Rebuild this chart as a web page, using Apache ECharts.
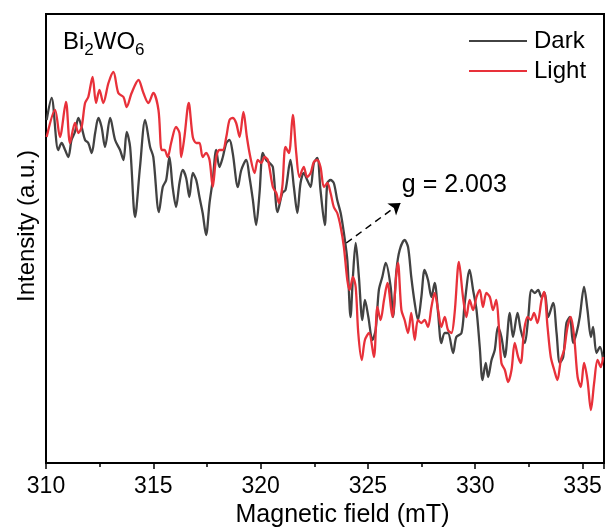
<!DOCTYPE html>
<html>
<head>
<meta charset="utf-8">
<script src="https://cdn.jsdelivr.net/npm/echarts@6/dist/echarts.min.js"></script>
<style>
html,body{margin:0;padding:0;background:#fff;}
#chart{width:605px;height:527px;}
</style>
</head>
<body>
<div id="chart"></div>
<script>
// ---- data ----
const darkField = [310.03,310.26,310.57,310.73,310.89,311.04,311.19,311.35,311.51,311.66,311.82,311.97,312.13,312.29,312.44,312.59,312.75,312.99,313.22,313.45,313.61,313.76,313.92,314.15,314.38,314.62,314.85,315.00,315.26,315.44,315.60,315.75,315.90,316.06,316.22,316.37,316.53,316.68,316.84,317.00,317.15,317.30,317.46,317.62,317.77,317.93,318.08,318.24,318.40,318.55,318.70,318.94,319.10,319.33,319.48,319.64,319.79,319.95,320.10,320.26,320.42,320.57,320.79,321.01,321.16,321.39,321.55,321.71,321.86,322.01,322.17,322.33,322.48,322.64,322.79,322.99,323.11,323.26,323.41,323.57,323.73,323.88,324.04,324.19,324.30,324.43,324.58,324.74,324.86,325.02,325.21,325.36,325.51,325.67,325.83,326.06,326.17,326.33,326.48,326.71,326.87,327.02,327.18,327.33,327.49,327.64,327.80,327.96,328.11,328.27,328.42,328.58,328.73,328.97,329.12,329.36,329.51,329.74,329.90,330.06,330.21,330.34,330.49,330.60,330.76,330.91,331.06,331.22,331.38,331.61,331.76,331.97,332.12,332.31,332.46,332.62,332.78,332.93,333.09,333.24,333.40,333.63,333.79,333.94,334.10,334.25,334.41,334.56,334.72,334.87,335.07,335.23,335.39,335.49,335.65,335.81,335.96];
const darkIntensity = [343,365,313,320,313,306,323,331,345,336,323,320,310,330,345,336,316,345,323,313,303,331,316,246,296,343,316,306,251,276,283,306,276,256,280,293,285,266,290,283,266,250,228,260,283,313,296,306,320,323,310,276,293,303,286,263,238,270,310,303,300,296,251,270,273,303,276,250,280,290,283,276,300,305,273,238,280,283,280,263,250,230,203,146,186,220,186,143,163,146,123,133,173,186,200,176,146,193,213,223,216,186,160,143,166,193,183,166,180,150,120,130,130,110,126,130,160,193,173,153,116,83,100,86,103,113,136,126,106,150,126,150,133,120,143,173,170,173,166,170,146,160,130,100,106,140,146,120,130,146,176,153,126,136,110,116,103];
const lightField = [310.03,310.42,310.65,310.93,311.12,311.35,311.51,311.66,311.82,311.97,312.17,312.33,312.49,312.67,312.91,313.14,313.37,313.61,313.76,313.99,314.31,314.54,314.77,315.00,315.24,315.39,315.52,315.67,315.83,316.06,316.22,316.30,316.45,316.65,316.84,317.00,317.15,317.30,317.46,317.62,317.77,317.93,318.08,318.24,318.40,318.55,318.70,318.86,319.02,319.20,319.36,319.52,319.72,319.87,320.03,320.18,320.34,320.57,320.73,320.85,321.01,321.16,321.32,321.50,321.66,321.81,322.01,322.17,322.33,322.48,322.64,322.79,322.95,323.11,323.26,323.41,323.57,323.73,323.88,324.04,324.15,324.30,324.43,324.55,324.71,324.86,325.05,325.28,325.44,325.59,325.75,325.91,326.14,326.33,326.40,326.56,326.71,326.87,327.02,327.18,327.33,327.49,327.64,327.80,327.96,328.11,328.27,328.42,328.58,328.73,328.89,329.04,329.24,329.43,329.59,329.74,329.90,330.06,330.21,330.36,330.52,330.68,330.83,330.98,331.10,331.22,331.38,331.53,331.69,331.84,332.00,332.12,332.28,332.44,332.59,332.74,332.90,333.09,333.21,333.37,333.52,333.68,333.83,333.99,334.14,334.30,334.45,334.61,334.77,334.92,335.07,335.23,335.39,335.54,335.70,335.85,335.96];
const lightIntensity = [326,353,326,361,320,340,330,336,360,366,386,360,373,360,380,391,370,366,356,370,383,370,360,370,353,313,313,306,320,336,330,306,326,360,326,320,320,306,310,303,276,306,313,313,326,343,345,340,326,351,326,306,290,303,300,306,303,276,270,260,276,316,310,348,310,286,296,286,290,301,303,296,276,280,270,256,250,236,216,183,173,186,176,130,103,123,130,106,156,143,163,180,146,190,200,153,143,130,150,123,143,140,143,136,156,170,153,136,146,133,130,150,201,166,146,163,153,166,173,156,170,166,153,163,137,100,93,81,93,120,106,100,133,146,143,150,140,163,171,136,106,93,83,103,113,136,146,126,86,76,100,83,53,80,103,96,106];
const seriesNames = ['Dark', 'Light'];
const xTicks = [310, 315, 320, 325, 330, 335];
const gArrowField = [323.99, 326.52];
const gArrowIntensity = [220, 260];
const gLabel = 'g = 2.003';
const gLabelPos = [326.58, 277.5];

const FONT = '"Liberation Sans", Arial, sans-serif';
const zip = (xs, ys) => xs.map((x, i) => [x, ys[i]]);

const chart = echarts.init(document.getElementById('chart'), null, {renderer: 'canvas'});
const option = {
  animation: false,
  backgroundColor: '#fff',
  grid: {left: 46, right: 1, top: 14, bottom: 64, containLabel: false, outerBoundsMode: 'none',
    show: true, borderColor: '#000', borderWidth: 2, backgroundColor: 'transparent'},
  legend: {
    orient: 'vertical', left: 469, top: 29, padding: 0,
    icon: 'rect', itemWidth: 58, itemHeight: 2, itemGap: 6,
    textStyle: {fontFamily: FONT, fontSize: 24, color: '#000', lineHeight: 24, padding: [0, 0, 0, 2]},
    data: seriesNames
  },
  xAxis: {
    type: 'value', min: xTicks[0], max: 336, interval: 5,
    name: 'Magnetic field (mT)', nameLocation: 'middle', nameGap: 36,
    nameTextStyle: {fontFamily: FONT, fontSize: 25, color: '#000', padding: [0, 0, 0, 35]},
    axisLine: {show: true, lineStyle: {color: '#000', width: 2}},
    axisTick: {show: true, inside: false, length: 6, lineStyle: {color: '#000', width: 1.5}},
    minorTick: {show: true, splitNumber: 2, length: 4, lineStyle: {color: '#000', width: 1.5}},
    axisLabel: {fontFamily: FONT, fontSize: 23, color: '#000', margin: 12, showMaxLabel: false,
      formatter: v => (xTicks.indexOf(v) >= 0 ? String(v) : '')},
    splitLine: {show: false}
  },
  yAxis: {
    type: 'value', min: 0, max: 449,
    name: 'Intensity (a.u.)', nameLocation: 'middle', nameGap: 7,
    nameTextStyle: {fontFamily: FONT, fontSize: 24, color: '#000', padding: [0, 0, 0, 25]},
    axisLine: {show: true, lineStyle: {color: '#000', width: 2}},
    axisTick: {show: false}, axisLabel: {show: false}, splitLine: {show: false}
  },
  series: [
    {
      name: seriesNames[0], type: 'line', symbol: 'none', showSymbol: false, smooth: 0.3,
      lineStyle: {color: '#424242', width: 2.3}, itemStyle: {color: '#424242'},
      data: zip(darkField, darkIntensity), z: 2
    },
    {
      name: seriesNames[1], type: 'line', symbol: 'none', showSymbol: false, smooth: 0.3,
      lineStyle: {color: '#e8313a', width: 2.3}, itemStyle: {color: '#e8313a'},
      data: zip(lightField, lightIntensity), z: 3,
      markLine: {
        silent: true, symbol: ['none', 'arrow'], symbolSize: 11,
        lineStyle: {type: [7, 5], color: '#000', width: 1.5},
        label: {show: false},
        data: [[{coord: [gArrowField[0], gArrowIntensity[0]]}, {coord: [gArrowField[1], gArrowIntensity[1]]}]]
      }
    }
  ]
};
chart.setOption(option);

const gp = chart.convertToPixel({gridIndex: 0}, gLabelPos);
chart.setOption({
  graphic: [
    {
      type: 'text', left: 63, top: 30, z: 10,
      style: {
        text: 'Bi{sub|2}WO{sub|6}',
        font: '24px ' + FONT, fill: '#000',
        rich: {
          sub: {fontSize: 17, fontFamily: FONT, fill: '#000', lineHeight: 17, padding: [12, 0, 0, 0], verticalAlign: 'top'}
        },
        lineHeight: 24, verticalAlign: 'top'
      }
    },
    {
      type: 'text', x: gp[0], y: gp[1], z: 10,
      style: {text: gLabel, font: '25px ' + FONT, fill: '#000', textAlign: 'left', textVerticalAlign: 'middle'}
    }
  ]
});
</script>
</body>
</html>
